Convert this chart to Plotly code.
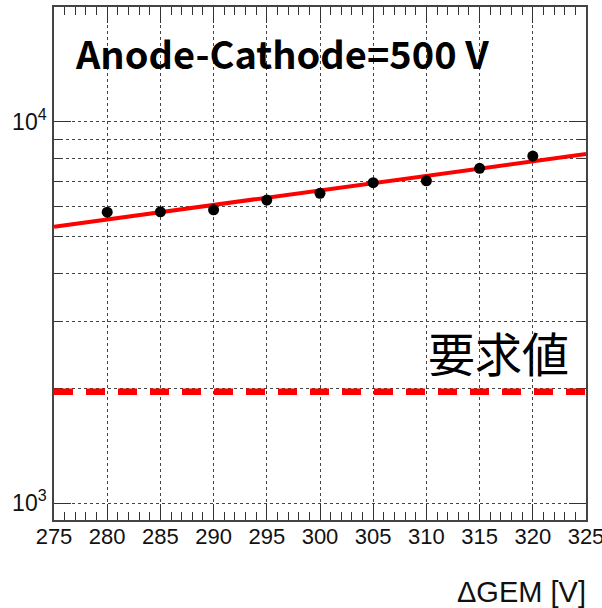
import plotly.graph_objects as go

# Data
dgem = [280, 285, 290, 295, 300, 305, 310, 315, 320]
gain = [5800, 5810, 5880, 6240, 6500, 6930, 7010, 7560, 8140]
fit_x = [275, 325]
fit_y = [5310, 8240]
requirement = 1960
x_ticks = [275, 280, 285, 290, 295, 300, 305, 310, 315, 320, 325]
y_tickvals = [1000, 10000]
y_ticktext = ["10<sup>3</sup>", "10<sup>4</sup>"]

fig = go.Figure()
fig.add_trace(go.Scatter(x=fit_x, y=fit_y, mode="lines",
                         line=dict(color="#ff0000", width=4), showlegend=False))
fig.add_trace(go.Scatter(x=dgem, y=gain, mode="markers",
                         marker=dict(color="black", size=11), showlegend=False,
                         cliponaxis=False))

fig.add_shape(type="line", xref="paper", yref="y", x0=0.0, x1=1.008,
              y0=requirement, y1=requirement,
              line=dict(color="#ff0000", width=6.5, dash="19px,13px"))

axis_font = dict(family="Liberation Sans, Arial, sans-serif", size=22, color="#111")

fig.update_xaxes(range=[275, 325], tickvals=x_ticks, ticktext=[str(v) for v in x_ticks],
                 ticks="inside", ticklen=16, tickwidth=1, tickcolor="#333",
                 showline=True, linecolor="#444", linewidth=1.5, mirror="ticks",
                 showgrid=True, gridcolor="#444", griddash="dot", gridwidth=1,
                 minor=dict(ticks="inside", ticklen=8, dtick=1, tick0=275,
                            tickcolor="#333", showgrid=False),
                 tickfont=axis_font, ticklabelstandoff=-4, ticklabeloverflow="allow",
                 automargin=False, zeroline=False)
fig.update_yaxes(type="log", range=[2.9554, 4.3018], tickvals=y_tickvals, ticktext=y_ticktext,
                 ticks="inside", ticklen=17, tickwidth=1, tickcolor="#333",
                 showline=True, linecolor="#444", linewidth=1.5, mirror="ticks",
                 showgrid=True, gridcolor="#444", griddash="dot", gridwidth=1,
                 minor=dict(ticks="inside", ticklen=8, dtick="D1",
                            tickcolor="#333", showgrid=True, gridcolor="#444",
                            griddash="dot", gridwidth=1),
                 tickfont=dict(family="Liberation Sans, Arial, sans-serif", size=23, color="#111"),
                 ticklabelstandoff=1, automargin=False, zeroline=False)

fig.add_annotation(text="Anode-Cathode=500 V", xref="paper", yref="paper",
                   x=0.036, y=0.912, xanchor="left", yanchor="middle", showarrow=False,
                   font=dict(family="Noto Sans CJK JP", size=38, color="black", weight="bold"))
fig.add_annotation(text="要求値", xref="paper", yref="paper",
                   x=0.835, y=0.3275, xanchor="center", yanchor="middle", showarrow=False,
                   font=dict(family="Noto Sans CJK JP", size=47, color="black"))
fig.add_annotation(text="ΔGEM [V]", xref="paper", yref="paper",
                   x=1.004, y=-0.14, xanchor="right", yanchor="middle", showarrow=False,
                   font=dict(family="Liberation Sans, Arial, sans-serif", size=29, color="#111"))

fig.update_layout(width=602, height=608, margin=dict(l=54, r=16, t=7, b=88),
                  plot_bgcolor="white", paper_bgcolor="white")

fig.write_html("out.html")
